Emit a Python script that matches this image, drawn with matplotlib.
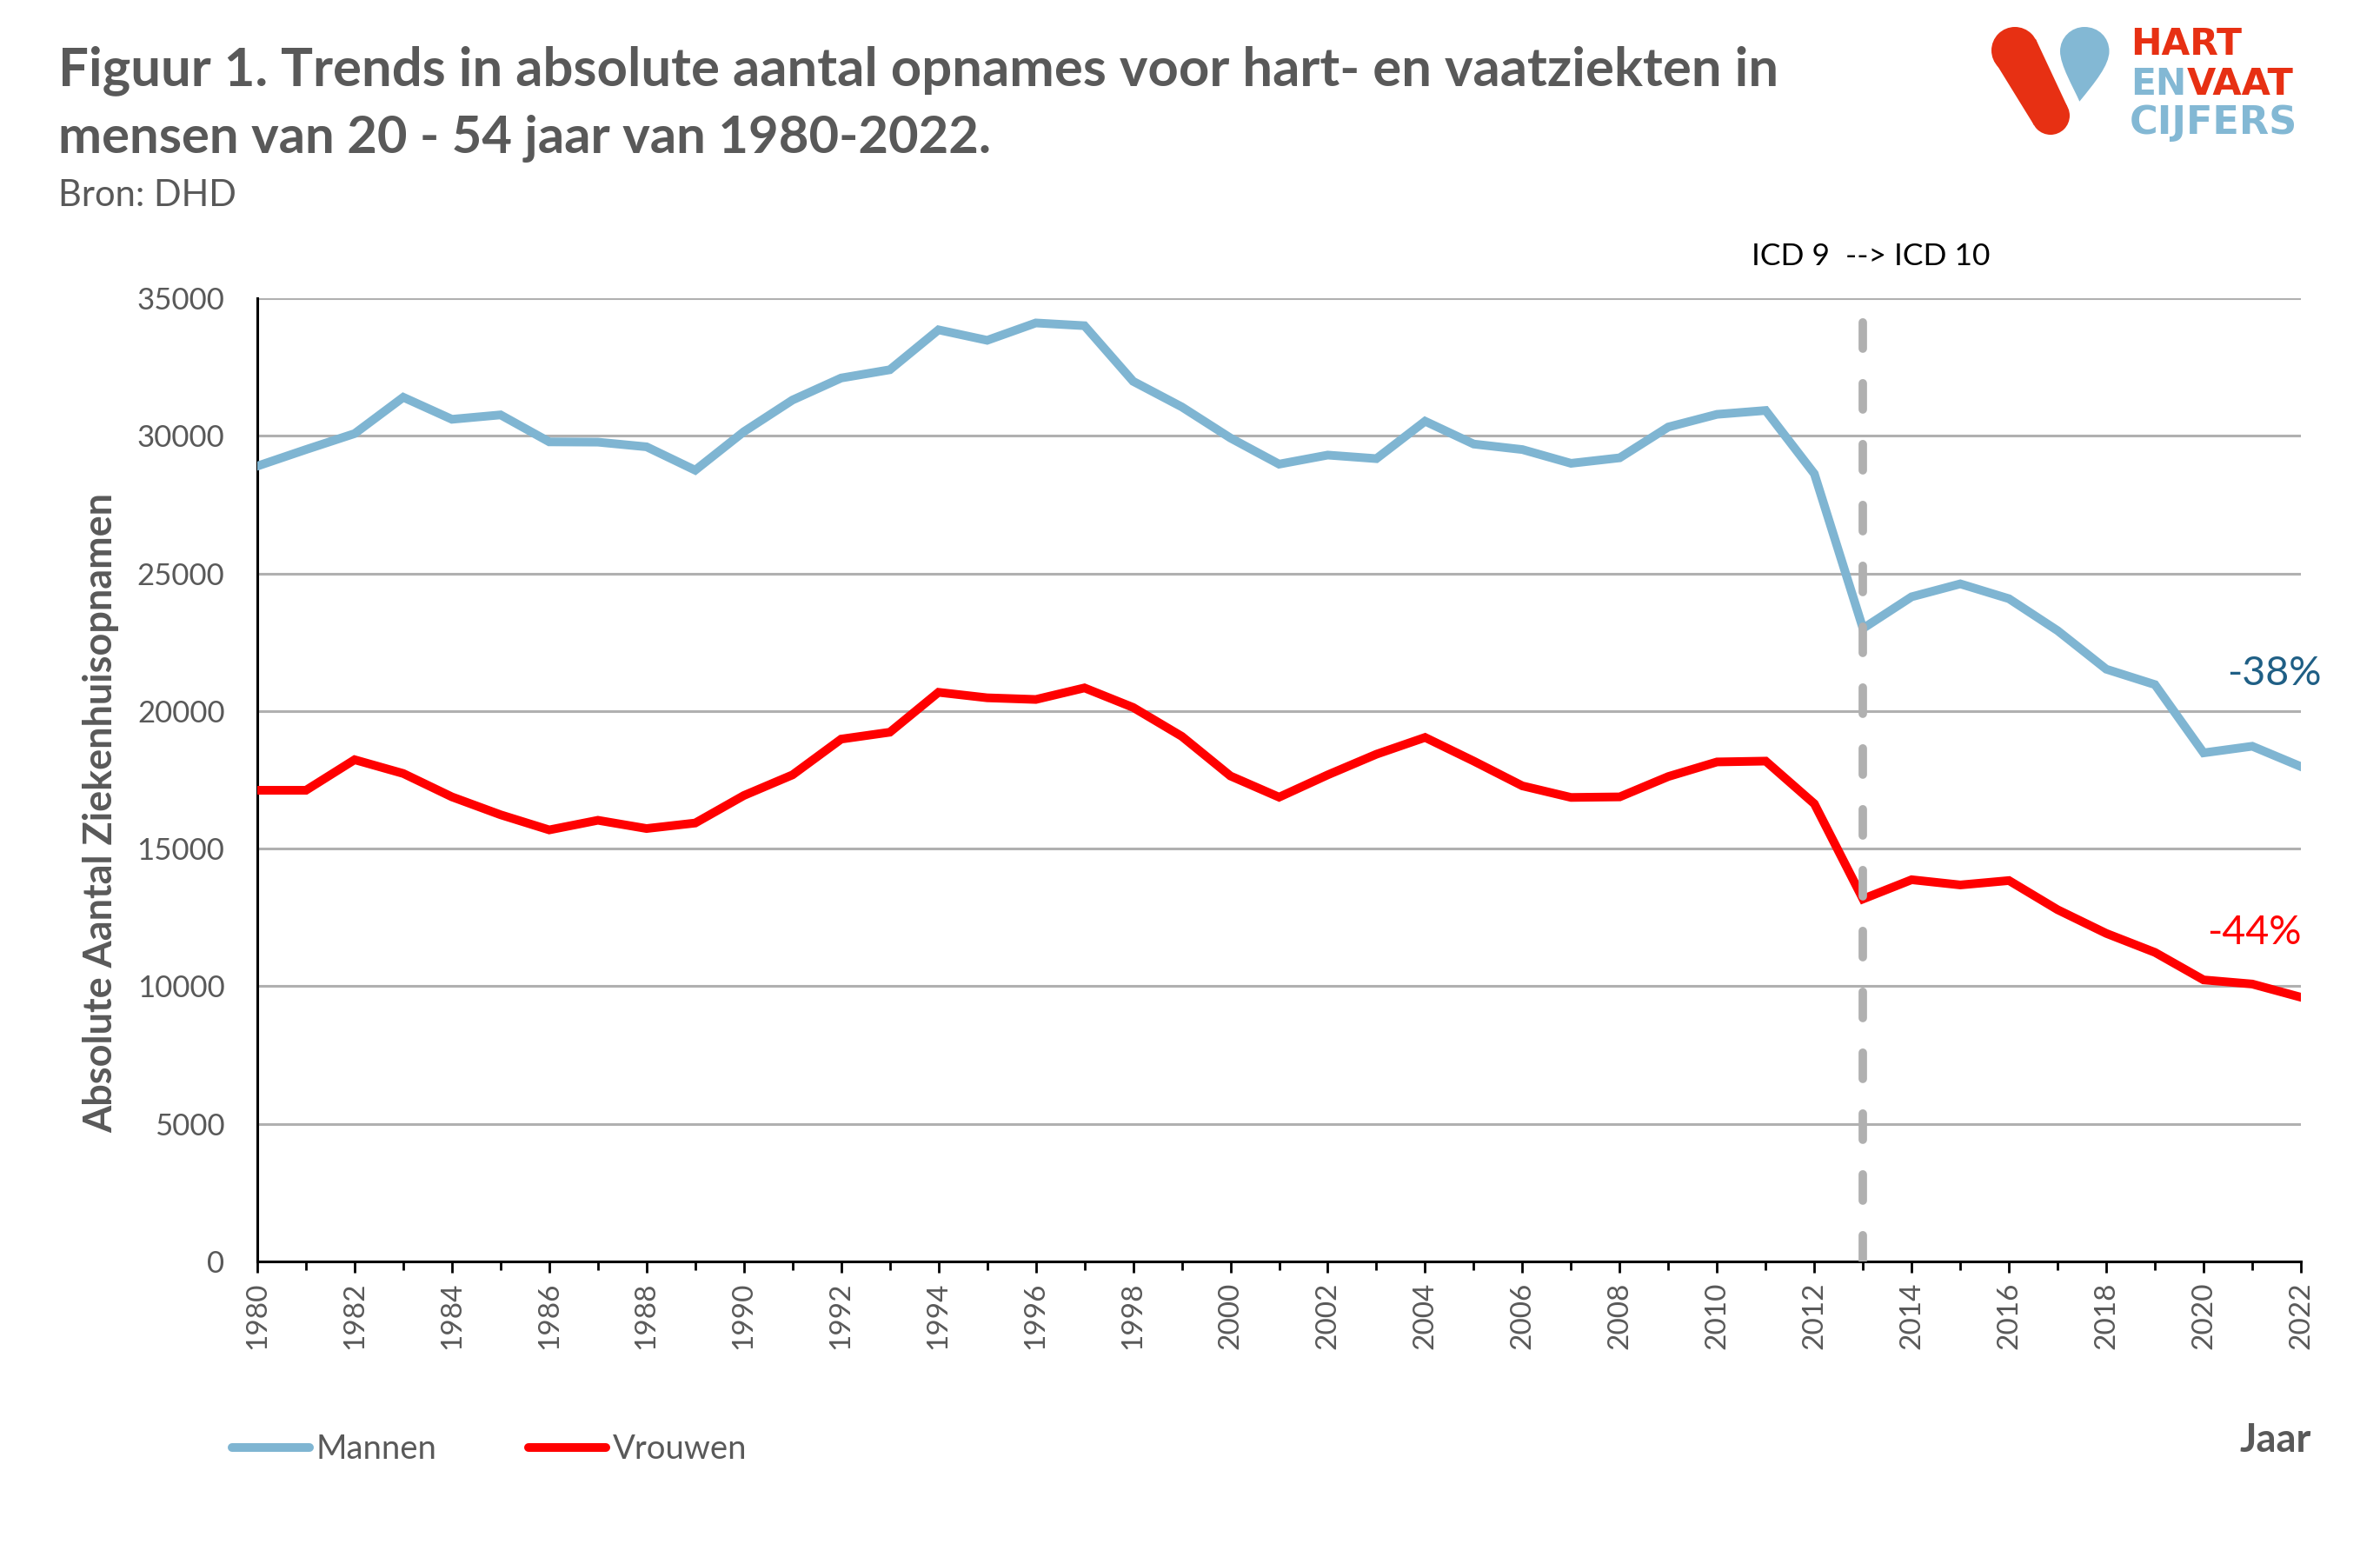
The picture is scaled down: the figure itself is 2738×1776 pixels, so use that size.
import matplotlib
matplotlib.use('Agg')
import matplotlib.pyplot as plt
from matplotlib.patches import Circle, Polygon, PathPatch
from matplotlib.path import Path

years = list(range(1980, 2023))
mannen = [28900, 29500, 30080, 31400, 30600, 30760, 29780, 29770, 29600, 28750,
          30150, 31300, 32100, 32400, 33850, 33470, 34100, 34000, 31980, 31050,
          29920, 28970, 29300, 29170, 30530, 29700, 29500, 29000, 29200, 30320,
          30780, 30920, 28620, 23000, 24150, 24620, 24080, 22920, 21520, 20960,
          18480, 18720, 17980]
vrouwen = [17120, 17120, 18230, 17730, 16880, 16230, 15680, 16030, 15730, 15930,
           16930, 17680, 18980, 19230, 20680, 20480, 20420, 20840, 20130, 19080,
           17640, 16870, 17680, 18430, 19040, 18180, 17280, 16860, 16880, 17620,
           18150, 18180, 16630, 13170, 13870, 13680, 13840, 12780, 11920, 11230,
           10230, 10080, 9600]
y_ticks = [0, 5000, 10000, 15000, 20000, 25000, 30000, 35000]
major_years = years[::2]
minor_years = years[1::2]
icd_year = 2013
icd_top = 34200

W, H = 2738, 1776
GREY = '#595959'
BLUE = '#7FB5D2'
RED = '#FF0000'
LOGO_RED = '#E73013'
LOGO_BLUE = '#83B8D4'

plt.rcParams['font.family'] = ['Lato', 'DejaVu Sans']
fig = plt.figure(figsize=(W / 100, H / 100), dpi=100)
ax = fig.add_axes([296 / W, 1 - 1451 / H, (2647 - 296) / W, (1451 - 343) / H])

# grid first, data on top
ax.set_xlim(1980, 2022)
ax.set_ylim(0, 35000)
ax.grid(axis='y', color='#B0B0B0', linewidth=2.2)
ax.set_axisbelow(True)
ax.plot(years, mannen, color=BLUE, linewidth=7.2, label='Mannen', zorder=3, solid_joinstyle='miter')
ax.plot(years, vrouwen, color=RED, linewidth=7.2, label='Vrouwen', zorder=3, solid_joinstyle='miter')
ax.plot([icd_year, icd_year], [0, icd_top], color='#B0B0B0', linewidth=7,
        linestyle=(0, (3.1, 4.1)), dash_capstyle='round', zorder=4)

for side in ['top', 'right']:
    ax.spines[side].set_visible(False)
for side in ['left', 'bottom']:
    ax.spines[side].set_linewidth(2.2)
ax.set_yticks(y_ticks)
ax.set_xticks(major_years)
ax.set_xticks(minor_years, minor=True)
ax.tick_params(axis='y', length=0, labelsize=25, labelcolor=GREY, pad=27)
ax.tick_params(axis='x', which='major', length=9, width=2, labelsize=24,
               labelcolor=GREY, labelrotation=90, pad=8)
ax.tick_params(axis='x', which='minor', length=7, width=2)

ax.text(2020.48, 21350, '-38%', color='#1F5F85', fontsize=33.5, ha='left', va='center')
ax.text(2020.08, 11950, '-44%', color=RED, fontsize=33.5, ha='left', va='center')

leg = ax.legend(loc='lower left', bbox_to_anchor=(267 / W, 1 - 1685 / H), bbox_transform=fig.transFigure,
                ncol=2, frameon=False, fontsize=27.5, labelcolor=GREY, handlelength=2.33,
                handletextpad=0.2, columnspacing=2.77, borderpad=0, borderaxespad=0)
for line in leg.get_lines():
    line.set_solid_capstyle('round')

# overlay in pixel coordinates for the texts and the logo
ov = fig.add_axes([0, 0, 1, 1], facecolor='none')
ov.set_xlim(0, W)
ov.set_ylim(H, 0)
ov.axis('off')

ov.text(67, 98, 'Figuur 1. Trends in absolute aantal opnames voor hart- en vaatziekten in',
        fontsize=44.4, fontweight='bold', color=GREY, va='baseline')
ov.text(67, 176, 'mensen van 20 - 54 jaar van 1980-2022.',
        fontsize=43, fontweight='bold', color=GREY, va='baseline')
ov.text(67, 237, 'Bron: DHD', fontsize=30, color=GREY, va='baseline')
ov.text(2015, 305, 'ICD 9  --> ICD 10', fontsize=25.5, color='black', va='baseline')
ov.text(116, 935, 'Absolute Aantal Ziekenhuisopnamen', fontsize=32.4, fontweight='bold',
        color=GREY, rotation=90, ha='center', va='center')
ov.text(2659, 1670, 'Jaar', fontsize=32.5, fontweight='bold', color=GREY, ha='right', va='baseline')

# logo
ov.add_patch(Circle((2318, 58), 27, color=LOGO_RED, lw=0))
ov.add_patch(Circle((2359, 133), 22, color=LOGO_RED, lw=0))
ov.add_patch(Polygon([(2342, 45), (2378, 122), (2340, 144), (2295, 71)], color=LOGO_RED, lw=0))
drop = Path([(2370, 59), (2370, 43), (2383, 31), (2398, 31), (2414, 31), (2426.5, 43), (2426.5, 59),
             (2426.5, 75), (2410, 95), (2392.3, 116.7), (2385, 100), (2370, 75), (2370, 59)],
            [Path.MOVETO] + [Path.CURVE4] * 12)
ov.add_patch(PathPatch(drop, color=LOGO_BLUE, lw=0))
logo_font = dict(fontweight='bold', family='DejaVu Sans', va='baseline')
ov.text(2451, 63, 'HART', color=LOGO_RED, fontsize=30.5, **logo_font)
ov.text(2451, 109, 'EN', color=LOGO_BLUE, fontsize=30.5, **logo_font)
ov.text(2516, 109, 'VAAT', color=LOGO_RED, fontsize=31, **logo_font)
ov.text(2450, 154, 'CIJFERS', color=LOGO_BLUE, fontsize=32, **logo_font)

fig.savefig('out.png', dpi=100)
